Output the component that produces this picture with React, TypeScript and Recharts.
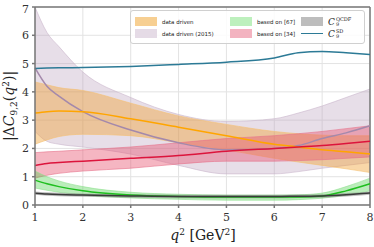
import { ComposedChart, Area, Line, XAxis, YAxis, CartesianGrid, ReferenceLine } from 'recharts';

const xs = [1, 1.25, 1.5, 2, 3, 4, 5, 6, 6.5, 7, 7.5, 8];

// data driven
const ddMid = [3.25, 3.3, 3.32, 3.3, 3.05, 2.75, 2.45, 2.15, 2.05, 1.95, 1.88, 1.8];
const ddHi = [4.35, 4.25, 4.15, 4.05, 3.6, 3.15, 2.85, 2.6, 2.52, 2.47, 2.45, 2.45];
const ddLo = [2.15, 2.3, 2.42, 2.5, 2.45, 2.2, 1.95, 1.65, 1.52, 1.4, 1.28, 1.15];

// data driven (2015)
const d15Mid = [4.85, 4.2, 3.85, 3.3, 2.65, 2.2, 1.95, 2.0, 2.1, 2.35, 2.55, 2.8];
const d15Hi = [7.0, 6.1, 5.6, 4.7, 3.8, 3.2, 2.95, 3.05, 3.25, 3.5, 3.8, 4.1];
const d15Lo = [2.6, 2.25, 2.15, 2.05, 1.8, 1.4, 1.1, 1.1, 1.18, 1.3, 1.4, 1.5];

// based on [67]
const b67Mid = [0.88, 0.75, 0.65, 0.5, 0.35, 0.3, 0.28, 0.28, 0.28, 0.32, 0.5, 0.75];
const b67Hi = [1.2, 1.0, 0.85, 0.65, 0.45, 0.38, 0.35, 0.35, 0.36, 0.42, 0.65, 0.95];
const b67Lo = [0.6, 0.52, 0.45, 0.35, 0.25, 0.2, 0.17, 0.17, 0.19, 0.24, 0.35, 0.5];

// based on [34]
const b34Mid = [1.4, 1.47, 1.5, 1.55, 1.65, 1.75, 1.9, 2.0, 2.05, 2.1, 2.17, 2.25];
const b34Hi = [1.85, 1.88, 1.9, 1.95, 2.05, 2.2, 2.35, 2.45, 2.52, 2.6, 2.7, 2.8];
const b34Lo = [0.95, 1.05, 1.12, 1.2, 1.3, 1.45, 1.55, 1.55, 1.57, 1.6, 1.65, 1.7];

// C9 QCDF
const qcdfMid = [0.42, 0.39, 0.37, 0.35, 0.32, 0.3, 0.3, 0.3, 0.31, 0.32, 0.36, 0.42];
const qcdfHi = [0.48, 0.45, 0.43, 0.41, 0.38, 0.36, 0.36, 0.36, 0.37, 0.38, 0.42, 0.48];
const qcdfLo = [0.36, 0.33, 0.31, 0.29, 0.26, 0.24, 0.24, 0.24, 0.25, 0.26, 0.3, 0.36];

// C9 SD
const sd = [4.83, 4.84, 4.85, 4.86, 4.9, 4.97, 5.05, 5.2, 5.38, 5.43, 5.38, 5.32];

const xTicks = [1, 2, 3, 4, 5, 6, 7, 8];
const yTicks = [0, 1, 2, 3, 4, 5, 6, 7];

const data = xs.map((x, i) => ({
  x,
  dd: [ddLo[i], ddHi[i]],
  ddMid: ddMid[i],
  d15: [d15Lo[i], d15Hi[i]],
  d15Mid: d15Mid[i],
  b67: [b67Lo[i], b67Hi[i]],
  b67Mid: b67Mid[i],
  b34: [b34Lo[i], b34Hi[i]],
  b34Mid: b34Mid[i],
  qcdf: [qcdfLo[i], qcdfHi[i]],
  qcdfMid: qcdfMid[i],
  sd: sd[i],
}));

const FONT = '"DejaVu Serif", "Liberation Serif", serif';

const C9 = ({ sup }: { sup: string }) => (
  <span style={{ fontFamily: FONT, fontStyle: 'italic', fontSize: 9, display: 'inline-flex', alignItems: 'center' }}>
    C
    <span style={{ display: 'inline-flex', flexDirection: 'column', fontStyle: 'normal', fontSize: 5, lineHeight: '5px', marginLeft: 1 }}>
      <span>{sup}</span>
      <span>9</span>
    </span>
  </span>
);

const legendItems = [
  { patch: '#f7cf92', label: 'data driven', col: 0, row: 0 },
  { patch: '#e5dbe6', label: 'data driven (2015)', col: 0, row: 1 },
  { patch: '#bdf0bd', label: 'based on [67]', col: 1, row: 0 },
  { patch: '#f3b3c0', label: 'based on [34]', col: 1, row: 1 },
  { patch: '#bdbdbd', label: 'QCDF', col: 2, row: 0 },
  { patch: 'line', label: 'SD', col: 2, row: 1 },
];

const colX = [4, 99, 170];

const LegendBox = () => (
  <div style={{ position: 'absolute', left: 130, top: 10, width: 235, height: 34, border: '1px solid #d0d0d0', borderRadius: 3, background: 'rgba(255,255,255,0.85)', boxSizing: 'border-box' }}>
    {legendItems.map((it) => (
      <div key={it.label} style={{ position: 'absolute', left: colX[it.col], top: 6 + it.row * 12, display: 'flex', alignItems: 'center', height: 9 }}>
        {it.patch === 'line' ? (
          <div style={{ width: 22, height: 9, display: 'flex', alignItems: 'center' }}>
            <div style={{ width: 22, height: 1.5, background: '#2c7a96' }} />
          </div>
        ) : (
          <div style={{ width: 22, height: 9, background: it.patch }} />
        )}
        <div style={{ marginLeft: 5, fontFamily: '"DejaVu Sans", sans-serif', fontSize: 5.5, color: '#222', whiteSpace: 'nowrap' }}>
          {it.col === 2 ? <C9 sup={it.label} /> : it.label}
        </div>
      </div>
    ))}
  </div>
);

const YLabel = () => (
  <text x={14} y={106} transform="rotate(-90 14 106)" textAnchor="middle" fontFamily={FONT} fontSize={14} fill="#222">
    |Δ<tspan fontStyle="italic">C</tspan>
    <tspan fontSize={9} dy={3}>9,2</tspan>
    <tspan dy={-3}>(</tspan>
    <tspan fontStyle="italic">q</tspan>
    <tspan fontSize={9} dy={-5}>2</tspan>
    <tspan dy={5}>)|</tspan>
  </text>
);

const XLabel = () => (
  <text x={203} y={240} textAnchor="middle" fontFamily={FONT} fontSize={14} fill="#222">
    <tspan fontStyle="italic">q</tspan>
    <tspan fontSize={9} dy={-5}>2</tspan>
    <tspan dy={5}> [GeV</tspan>
    <tspan fontSize={9} dy={-5}>2</tspan>
    <tspan dy={5}>]</tspan>
  </text>
);

const XTick = ({ x, y, payload }: any) => (
  <text x={x} y={y + 11} textAnchor="middle" fontFamily={FONT} fontSize={11} fill="#333">
    {payload.value}
  </text>
);

const YTick = ({ x, y, payload }: any) => (
  <text x={x - 1} y={y + 4} textAnchor="end" fontFamily={FONT} fontSize={11} fill="#333">
    {payload.value}
  </text>
);

export default function App() {
  return (
    <div style={{ position: 'absolute', left: 0, top: 0, width: 374, height: 247, background: '#fff' }}>
      <ComposedChart width={374} height={247} data={data} margin={{ top: 7, right: 4, left: 0, bottom: 12 }}>
        <CartesianGrid stroke="#e3e3e3" strokeWidth={1} horizontal vertical />
        <XAxis
          dataKey="x"
          type="number"
          domain={[1, 8]}
          ticks={xTicks}
          height={30}
          stroke="#777"
          strokeWidth={1.5}
          tickSize={3}
          tick={<XTick />}
          label={<XLabel />}
        />
        <YAxis
          type="number"
          domain={[0, 7]}
          ticks={yTicks}
          width={35}
          stroke="#777"
          strokeWidth={1.5}
          tickSize={3}
          tick={<YTick />}
          label={<YLabel />}
        />
        <ReferenceLine y={7} stroke="#777" strokeWidth={1.5} />
        <ReferenceLine x={8} stroke="#777" strokeWidth={1.5} />

        <Area dataKey="d15" type="monotone" fill="#b9a0bd" fillOpacity={0.35} stroke="#c9b5cb" strokeWidth={0.6} isAnimationActive={false} />
        <Area dataKey="dd" type="monotone" fill="#f0a030" fillOpacity={0.42} stroke="#f5c070" strokeWidth={0.6} isAnimationActive={false} />
        <Area dataKey="b34" type="monotone" fill="#e6506e" fillOpacity={0.42} stroke="#e6708a" strokeWidth={0.6} isAnimationActive={false} />
        <Area dataKey="b67" type="monotone" fill="#4ccf4c" fillOpacity={0.38} stroke="#8fe08f" strokeWidth={0.6} isAnimationActive={false} />
        <Area dataKey="qcdf" type="monotone" fill="#808080" fillOpacity={0.5} stroke="none" isAnimationActive={false} />

        <Line dataKey="d15Mid" type="monotone" stroke="#a489ab" strokeWidth={1.5} dot={false} isAnimationActive={false} />
        <Line dataKey="ddMid" type="monotone" stroke="#ffa500" strokeWidth={1.5} dot={false} isAnimationActive={false} />
        <Line dataKey="b34Mid" type="monotone" stroke="#dc143c" strokeWidth={1.5} dot={false} isAnimationActive={false} />
        <Line dataKey="b67Mid" type="monotone" stroke="#1fbf1f" strokeWidth={1.5} dot={false} isAnimationActive={false} />
        <Line dataKey="qcdfMid" type="monotone" stroke="#3a3a3a" strokeWidth={1.5} dot={false} isAnimationActive={false} />
        <Line dataKey="sd" type="monotone" stroke="#2c7a96" strokeWidth={1.5} dot={false} isAnimationActive={false} />
      </ComposedChart>
      <LegendBox />
    </div>
  );
}
